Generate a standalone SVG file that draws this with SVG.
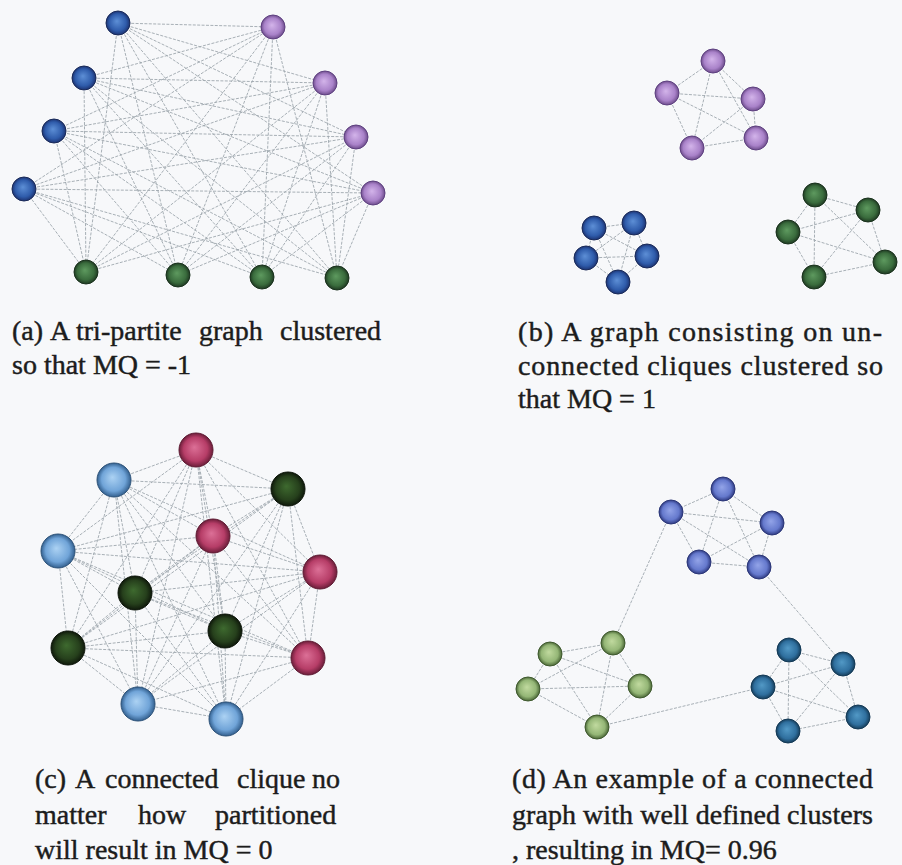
<svg xmlns="http://www.w3.org/2000/svg" width="902" height="865" viewBox="0 0 902 865">
  <defs>
    <style>
      .edge { fill: none; stroke: #9ea7ae; stroke-width: 0.9; stroke-dasharray: 3 1.4; }
      .cap { font-family: "Liberation Serif", "Times New Roman", serif; font-size: 28px; fill: #1c1c1c; stroke: #1c1c1c; stroke-width: 0.45; }
      .blue { fill: url(#gBlue); stroke: #1a2a58; stroke-width: 1; }
      .purple { fill: url(#gPurple); stroke: #5e4080; stroke-width: 1; }
      .green { fill: url(#gGreen); stroke: #1a321d; stroke-width: 1; }
      .pink { fill: url(#gPink); stroke: #5e1a32; stroke-width: 1; }
      .lblue { fill: url(#gLBlue); stroke: #2d5278; stroke-width: 1; }
      .dgreen { fill: url(#gDGreen); stroke: #0b1408; stroke-width: 1; }
      .violet { fill: url(#gViolet); stroke: #2c3778; stroke-width: 1; }
      .lgreen { fill: url(#gLGreen); stroke: #3f5a2e; stroke-width: 1; }
      .teal { fill: url(#gTeal); stroke: #143a56; stroke-width: 1; }
    </style>
    <radialGradient id="gBlue" cx="0.5" cy="0.5" r="0.5" fx="0.45" fy="0.42">
      <stop offset="0" stop-color="#5d8fd6"/><stop offset="0.7" stop-color="#2f5cab"/><stop offset="1" stop-color="#1c3372"/>
    </radialGradient>
    <radialGradient id="gPurple" cx="0.5" cy="0.5" r="0.5" fx="0.45" fy="0.42">
      <stop offset="0" stop-color="#d3b4ea"/><stop offset="0.7" stop-color="#a982c9"/><stop offset="1" stop-color="#6e4d8c"/>
    </radialGradient>
    <radialGradient id="gGreen" cx="0.5" cy="0.5" r="0.5" fx="0.45" fy="0.42">
      <stop offset="0" stop-color="#5e9a5f"/><stop offset="0.7" stop-color="#3a6c3d"/><stop offset="1" stop-color="#1f3a22"/>
    </radialGradient>
    <radialGradient id="gPink" cx="0.5" cy="0.5" r="0.5" fx="0.45" fy="0.42">
      <stop offset="0" stop-color="#dc7097"/><stop offset="0.7" stop-color="#b63d67"/><stop offset="1" stop-color="#6c1e3a"/>
    </radialGradient>
    <radialGradient id="gLBlue" cx="0.5" cy="0.5" r="0.5" fx="0.45" fy="0.42">
      <stop offset="0" stop-color="#acd2f3"/><stop offset="0.7" stop-color="#70a4d8"/><stop offset="1" stop-color="#33608f"/>
    </radialGradient>
    <radialGradient id="gDGreen" cx="0.5" cy="0.5" r="0.5" fx="0.45" fy="0.42">
      <stop offset="0" stop-color="#3e6a2f"/><stop offset="0.7" stop-color="#26401c"/><stop offset="1" stop-color="#0f190b"/>
    </radialGradient>
    <radialGradient id="gViolet" cx="0.5" cy="0.5" r="0.5" fx="0.45" fy="0.42">
      <stop offset="0" stop-color="#93a4e8"/><stop offset="0.7" stop-color="#6579cd"/><stop offset="1" stop-color="#2f3b82"/>
    </radialGradient>
    <radialGradient id="gLGreen" cx="0.5" cy="0.5" r="0.5" fx="0.45" fy="0.42">
      <stop offset="0" stop-color="#c1da9f"/><stop offset="0.7" stop-color="#94b676"/><stop offset="1" stop-color="#4b6737"/>
    </radialGradient>
    <radialGradient id="gTeal" cx="0.5" cy="0.5" r="0.5" fx="0.45" fy="0.42">
      <stop offset="0" stop-color="#5299c6"/><stop offset="0.7" stop-color="#2f6f9e"/><stop offset="1" stop-color="#163e5c"/>
    </radialGradient>
  </defs>

  <rect width="902" height="865" fill="#f7f8fa"/>

  <!-- connectors -->
  <g id="edges">
    <!-- (a) complete tri-partite graph -->
    <path class="edge" d="M118 23L273 27M118 23L325 83M118 23L356 137M118 23L373 193M118 23L86 272M118 23L178 275M118 23L262 277M118 23L337 278"/>
    <path class="edge" d="M84 78L273 27M84 78L325 83M84 78L356 137M84 78L373 193M84 78L86 272M84 78L178 275M84 78L262 277M84 78L337 278"/>
    <path class="edge" d="M54 131L273 27M54 131L325 83M54 131L356 137M54 131L373 193M54 131L86 272M54 131L178 275M54 131L262 277M54 131L337 278"/>
    <path class="edge" d="M24 189L273 27M24 189L325 83M24 189L356 137M24 189L373 193M24 189L86 272M24 189L178 275M24 189L262 277M24 189L337 278"/>
    <path class="edge" d="M273 27L86 272M273 27L178 275M273 27L262 277M273 27L337 278"/>
    <path class="edge" d="M325 83L86 272M325 83L178 275M325 83L262 277M325 83L337 278"/>
    <path class="edge" d="M356 137L86 272M356 137L178 275M356 137L262 277M356 137L337 278"/>
    <path class="edge" d="M373 193L86 272M373 193L178 275M373 193L262 277M373 193L337 278"/>

    <!-- (b) three separate cliques -->
    <path class="edge" d="M713 61L667 93M713 61L753 99M713 61L756 138M713 61L692 148M667 93L753 99M667 93L756 138M667 93L692 148M753 99L756 138M753 99L692 148M756 138L692 148"/>
    <path class="edge" d="M594 228L634 223M594 228L586 258M594 228L647 256M594 228L618 282M634 223L586 258M634 223L647 256M634 223L618 282M586 258L647 256M586 258L618 282M647 256L618 282"/>
    <path class="edge" d="M815 195L868 210M815 195L788 232M815 195L885 262M815 195L814 277M868 210L788 232M868 210L885 262M868 210L814 277M788 232L885 262M788 232L814 277M885 262L814 277"/>

    <!-- (c) complete graph on twelve nodes -->
    <path class="edge" d="M196 450L114 480M196 450L288 489M196 450L213 536M196 450L58 551M196 450L320 572M196 450L135 593M196 450L225 631M196 450L68 648M196 450L308 658M196 450L138 704M196 450L226 719"/>
    <path class="edge" d="M114 480L288 489M114 480L213 536M114 480L58 551M114 480L320 572M114 480L135 593M114 480L225 631M114 480L68 648M114 480L308 658M114 480L138 704M114 480L226 719"/>
    <path class="edge" d="M288 489L213 536M288 489L58 551M288 489L320 572M288 489L135 593M288 489L225 631M288 489L68 648M288 489L308 658M288 489L138 704M288 489L226 719"/>
    <path class="edge" d="M213 536L58 551M213 536L320 572M213 536L135 593M213 536L225 631M213 536L68 648M213 536L308 658M213 536L138 704M213 536L226 719"/>
    <path class="edge" d="M58 551L320 572M58 551L135 593M58 551L225 631M58 551L68 648M58 551L308 658M58 551L138 704M58 551L226 719"/>
    <path class="edge" d="M320 572L135 593M320 572L225 631M320 572L68 648M320 572L308 658M320 572L138 704M320 572L226 719"/>
    <path class="edge" d="M135 593L225 631M135 593L68 648M135 593L308 658M135 593L138 704M135 593L226 719"/>
    <path class="edge" d="M225 631L68 648M225 631L308 658M225 631L138 704M225 631L226 719"/>
    <path class="edge" d="M68 648L308 658M68 648L138 704M68 648L226 719"/>
    <path class="edge" d="M308 658L138 704M308 658L226 719"/>
    <path class="edge" d="M138 704L226 719"/>

    <!-- (d) three cliques joined by single links -->
    <path class="edge" d="M723 489L671 512M723 489L772 523M723 489L699 562M723 489L759 567M671 512L772 523M671 512L699 562M671 512L759 567M772 523L699 562M772 523L759 567M699 562L759 567"/>
    <path class="edge" d="M613 643L550 654M613 643L528 689M613 643L640 686M613 643L597 727M550 654L528 689M550 654L640 686M550 654L597 727M528 689L640 686M528 689L597 727M640 686L597 727"/>
    <path class="edge" d="M789 650L843 664M789 650L763 687M789 650L858 717M789 650L788 731M843 664L763 687M843 664L858 717M843 664L788 731M763 687L858 717M763 687L788 731M858 717L788 731"/>
    <path class="edge" d="M671 512L613 643M759 567L843 664M597 727L763 687"/>
  </g>

  <!-- (a) nodes -->
  <g id="a-b1"><circle class="blue" cx="118" cy="23" r="12"/></g>
  <g id="a-b2"><circle class="blue" cx="84" cy="78" r="12"/></g>
  <g id="a-b3"><circle class="blue" cx="54" cy="131" r="12"/></g>
  <g id="a-b4"><circle class="blue" cx="24" cy="189" r="12"/></g>
  <g id="a-p1"><circle class="purple" cx="273" cy="27" r="12"/></g>
  <g id="a-p2"><circle class="purple" cx="325" cy="83" r="12"/></g>
  <g id="a-p3"><circle class="purple" cx="356" cy="137" r="12"/></g>
  <g id="a-p4"><circle class="purple" cx="373" cy="193" r="12"/></g>
  <g id="a-g1"><circle class="green" cx="86" cy="272" r="12"/></g>
  <g id="a-g2"><circle class="green" cx="178" cy="275" r="12"/></g>
  <g id="a-g3"><circle class="green" cx="262" cy="277" r="12"/></g>
  <g id="a-g4"><circle class="green" cx="337" cy="278" r="12"/></g>

  <!-- (b) nodes -->
  <g id="b-p1"><circle class="purple" cx="713" cy="61" r="12"/></g>
  <g id="b-p2"><circle class="purple" cx="667" cy="93" r="12"/></g>
  <g id="b-p3"><circle class="purple" cx="753" cy="99" r="12"/></g>
  <g id="b-p4"><circle class="purple" cx="756" cy="138" r="12"/></g>
  <g id="b-p5"><circle class="purple" cx="692" cy="148" r="12"/></g>
  <g id="b-b1"><circle class="blue" cx="594" cy="228" r="12"/></g>
  <g id="b-b2"><circle class="blue" cx="634" cy="223" r="12"/></g>
  <g id="b-b3"><circle class="blue" cx="586" cy="258" r="12"/></g>
  <g id="b-b4"><circle class="blue" cx="647" cy="256" r="12"/></g>
  <g id="b-b5"><circle class="blue" cx="618" cy="282" r="12"/></g>
  <g id="b-g1"><circle class="green" cx="815" cy="195" r="12"/></g>
  <g id="b-g2"><circle class="green" cx="868" cy="210" r="12"/></g>
  <g id="b-g3"><circle class="green" cx="788" cy="232" r="12"/></g>
  <g id="b-g4"><circle class="green" cx="885" cy="262" r="12"/></g>
  <g id="b-g5"><circle class="green" cx="814" cy="277" r="12"/></g>

  <!-- (c) nodes -->
  <g id="c-n1"><circle class="pink" cx="196" cy="450" r="17"/></g>
  <g id="c-n2"><circle class="lblue" cx="114" cy="480" r="17"/></g>
  <g id="c-n3"><circle class="dgreen" cx="288" cy="489" r="17"/></g>
  <g id="c-n4"><circle class="pink" cx="213" cy="536" r="17"/></g>
  <g id="c-n5"><circle class="lblue" cx="58" cy="551" r="17"/></g>
  <g id="c-n6"><circle class="pink" cx="320" cy="572" r="17"/></g>
  <g id="c-n7"><circle class="dgreen" cx="135" cy="593" r="17"/></g>
  <g id="c-n8"><circle class="dgreen" cx="225" cy="631" r="17"/></g>
  <g id="c-n9"><circle class="dgreen" cx="68" cy="648" r="17"/></g>
  <g id="c-n10"><circle class="pink" cx="308" cy="658" r="17"/></g>
  <g id="c-n11"><circle class="lblue" cx="138" cy="704" r="17"/></g>
  <g id="c-n12"><circle class="lblue" cx="226" cy="719" r="17"/></g>

  <!-- (d) nodes -->
  <g id="d-v1"><circle class="violet" cx="723" cy="489" r="12"/></g>
  <g id="d-v2"><circle class="violet" cx="671" cy="512" r="12"/></g>
  <g id="d-v3"><circle class="violet" cx="772" cy="523" r="12"/></g>
  <g id="d-v4"><circle class="violet" cx="699" cy="562" r="12"/></g>
  <g id="d-v5"><circle class="violet" cx="759" cy="567" r="12"/></g>
  <g id="d-g1"><circle class="lgreen" cx="613" cy="643" r="12"/></g>
  <g id="d-g2"><circle class="lgreen" cx="550" cy="654" r="12"/></g>
  <g id="d-g3"><circle class="lgreen" cx="528" cy="689" r="12"/></g>
  <g id="d-g4"><circle class="lgreen" cx="640" cy="686" r="12"/></g>
  <g id="d-g5"><circle class="lgreen" cx="597" cy="727" r="12"/></g>
  <g id="d-t1"><circle class="teal" cx="789" cy="650" r="12"/></g>
  <g id="d-t2"><circle class="teal" cx="843" cy="664" r="12"/></g>
  <g id="d-t3"><circle class="teal" cx="763" cy="687" r="12"/></g>
  <g id="d-t4"><circle class="teal" cx="858" cy="717" r="12"/></g>
  <g id="d-t5"><circle class="teal" cx="788" cy="731" r="12"/></g>

  <!-- captions -->
  <g id="caption-a" class="cap">
    <text y="340"><tspan x="12">(a)</tspan><tspan x="50">A</tspan><tspan x="76">tri-partite</tspan><tspan x="199">graph</tspan><tspan x="280">clustered</tspan></text>
    <text x="12" y="374">so that MQ = -1</text>
  </g>
  <g id="caption-b" class="cap">
    <text x="518" y="341" textLength="364" lengthAdjust="spacing">(b) A graph consisting on un-</text>
    <text x="518" y="375" textLength="365" lengthAdjust="spacing">connected cliques clustered so</text>
    <text x="518" y="408">that MQ = 1</text>
  </g>
  <g id="caption-c" class="cap">
    <text y="788"><tspan x="35">(c)</tspan><tspan x="75">A</tspan><tspan x="105">connected</tspan><tspan x="237">clique</tspan><tspan x="312">no</tspan></text>
    <text y="824"><tspan x="35">matter</tspan><tspan x="138">how</tspan><tspan x="215">partitioned</tspan></text>
    <text x="35" y="859">will result in MQ = 0</text>
  </g>
  <g id="caption-d" class="cap">
    <text x="512" y="788" textLength="361" lengthAdjust="spacing">(d) An example of a connected</text>
    <text x="512" y="824" textLength="361" lengthAdjust="spacing">graph with well defined clusters</text>
    <text x="512" y="859">, resulting in MQ= 0.96</text>
  </g>
</svg>
